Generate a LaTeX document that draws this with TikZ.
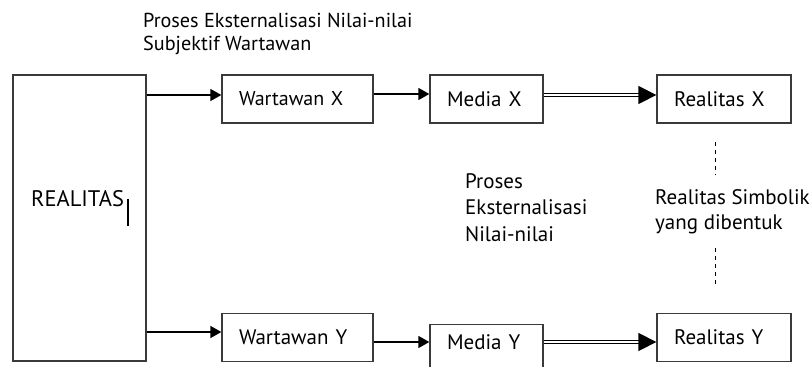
\documentclass[tikz,border=0pt]{standalone}
\usepackage{fontspec}
\setmainfont{PT Sans}
\usetikzlibrary{positioning}
\usetikzlibrary{arrows.meta}
\definecolor{boxgray}{HTML}{3A3A3A}

\begin{document}
\begin{tikzpicture}[
  x=1pt, y=-1pt,
  box/.style={draw=boxgray, line width=1.3pt, inner xsep=17pt, align=left, minimum height=48pt, font=\fontsize{21}{25}\selectfont},
  txt/.style={inner sep=0pt, align=left, anchor=north west},
  arrow/.style={line width=1.3pt, -{Triangle[length=11pt,width=12pt]}},
  dblarrow/.style={double, double distance=1.4pt, line width=1.3pt, -{Triangle[length=18pt,width=18pt]}}
]
\useasboundingbox (0,0) rectangle (812,367);

\node[txt, font=\fontsize{20.2}{23}\selectfont] (title) at (143,12.5) {Proses Eksternalisasi Nilai-nilai\\Subjektif Wartawan};

\node[draw=boxgray, line width=1.3pt, minimum width=133pt, minimum height=286pt] (realitas) at (79.5,218) {};
\node[inner sep=0pt, anchor=base west, font=\fontsize{22.5}{26}\selectfont] (realitastxt) at (31,206) {REALITAS};
\draw[line width=2.5pt] (128,199) -- (128,226);

\node[box, text width=117pt, font=\fontsize{20}{24}\selectfont] (wartawanX) at (297.5,99) {Wartawan X};
\node[box, text width=79pt] (mediaX) at (486.5,99) {Media X};
\node[box, text width=100pt] (realitasX) at (724,99) {Realitas X};

\node[box, text width=117pt] (wartawanY) at (297.5,337.5) {Wartawan Y};
\node[box, text width=79pt, anchor=north, inner ysep=10pt, text height=15pt, text depth=30pt] (mediaY) at (486.5,324) {Media Y};
\node[box, text width=100pt] (realitasY) at (724,337.5) {Realitas Y};

\node[txt, font=\fontsize{21}{26.5}\selectfont] (proses) at (465,173) {Proses\\Eksternalisasi\\Nilai-nilai};
\node[txt, font=\fontsize{21}{25}\selectfont] (simbolik) at (655,189.5) {Realitas Simbolik\\yang dibentuk};

% arrows
\coordinate (rx) at ([yshift=4pt]wartawanX.west);
\coordinate (ry) at ([yshift=5.5pt]wartawanY.west);
\coordinate (my) at ([yshift=-4.5pt]realitasY.west);
\draw[arrow] (realitas.east |- rx) -- (rx);
\draw[arrow] (realitas.east |- ry) -- (ry);
\draw[arrow] ([yshift=5pt]wartawanX.east) -- ([yshift=5pt]mediaX.west);
\draw[dblarrow] ([yshift=4pt]mediaX.east) -- ([yshift=4pt]realitasX.west);
\draw[arrow] (wartawanY.east |- my) -- (mediaY.west |- my);
\draw[dblarrow] (mediaY.east |- my) -- (my);

% dashed link
\coordinate (d1) at (715,142);
\coordinate (d2) at (715,175);
\coordinate (d3) at (715,248);
\coordinate (d4) at (715,287);
\draw[line width=1pt, dash pattern=on 4pt off 4pt] (d1) -- (d2);
\draw[line width=1pt, dash pattern=on 4pt off 4pt] (d3) -- (d4);

\end{tikzpicture}
\end{document}
